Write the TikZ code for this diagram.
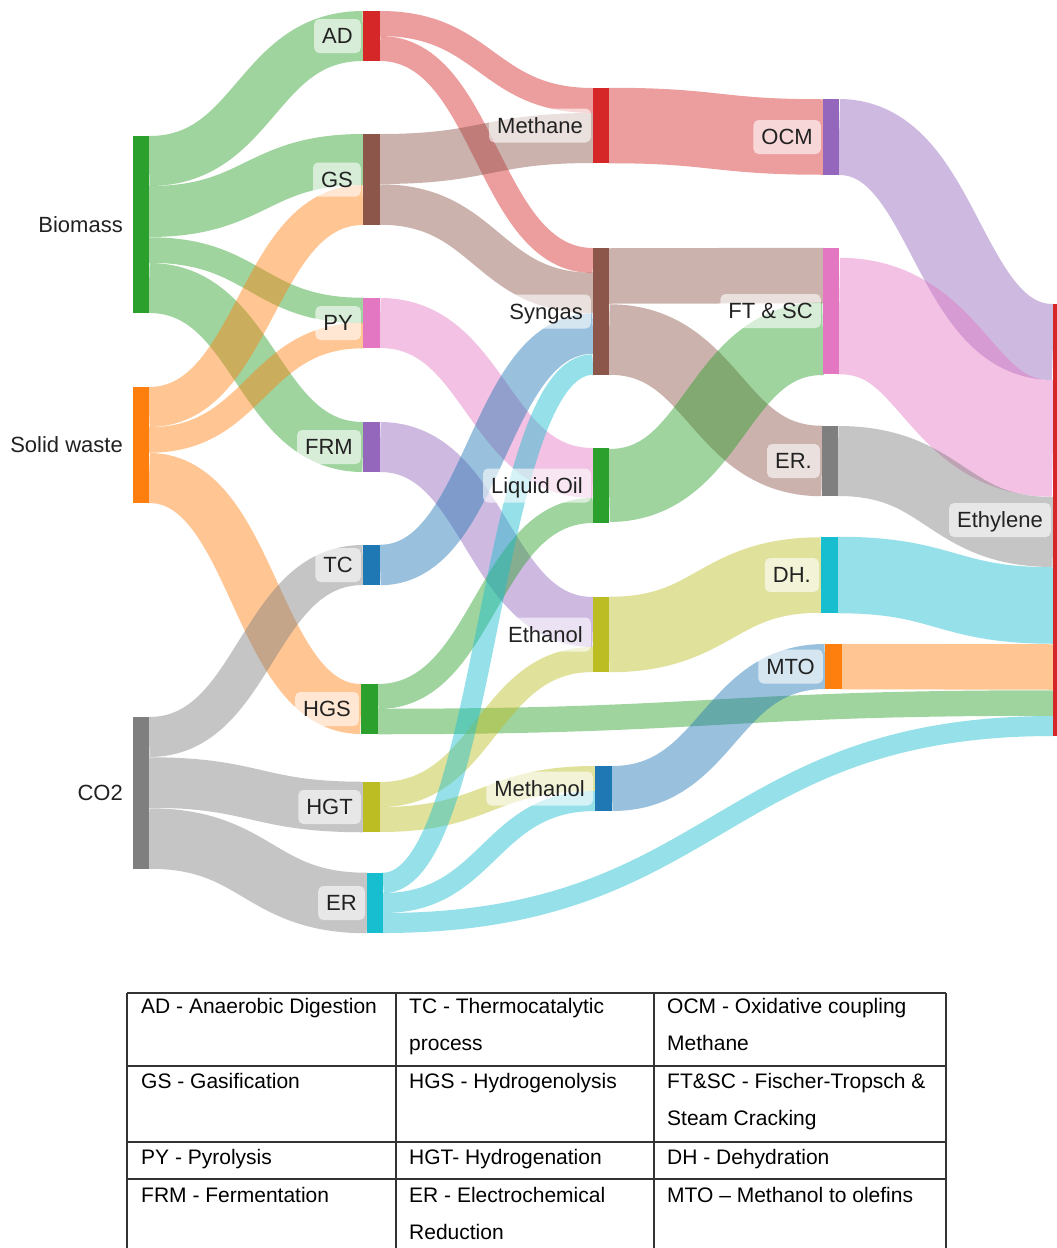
\documentclass[tikz,border=0pt]{standalone}
\usepackage{fontspec}
\setmainfont{Liberation Sans}
\usetikzlibrary{calc}
\definecolor{cblue}{HTML}{1F77B4}
\definecolor{corange}{HTML}{FF7F0E}
\definecolor{cgreen}{HTML}{2CA02C}
\definecolor{cred}{HTML}{D62728}
\definecolor{cpurple}{HTML}{9467BD}
\definecolor{cbrown}{HTML}{8C564B}
\definecolor{cpink}{HTML}{E377C2}
\definecolor{cgray}{HTML}{7F7F7F}
\definecolor{colive}{HTML}{BCBD22}
\definecolor{ccyan}{HTML}{17BECF}
\definecolor{labelc}{HTML}{222222}
\definecolor{tablec}{HTML}{333333}
\pgfdeclarelayer{flows}
\pgfsetlayers{flows,main}
\newcommand\sknode[6]{\node[barnode, fill=#2, minimum width={#4-#3}, minimum height={#6-#5}] (#1) at ({(#3+#4)/2},{(#5+#6)/2}) {};}
\newcommand\sflow[7]{%
  \coordinate (bS) at ($(#2.north east)+(0,{(#3+#4)/2})$);
  \coordinate (bT) at ($(#5.north west)+(0,{(#6+#7)/2})$);
  \coordinate (bM) at ($(bS)!0.5!(bT)$);
  \draw[flowband=#1, line width={((#4-#3)+(#7-#6))/2}] (bS) .. controls (bM |- bS) and (bM |- bT) .. (bT);}
\newcommand\sklabel[3]{\node[lbl] (#1) at ($(#2.west)+(-2,0)$) {#3};}
\begin{document}
\begin{tikzpicture}[x=1pt,y=-1pt,
  barnode/.style={draw=none, rectangle, inner sep=0pt, outer sep=0pt},
  flowband/.style={draw=#1, draw opacity=0.45, line cap=butt},
  lbl/.style={anchor=east, fill=white, fill opacity=0.6, text opacity=1, rounded corners=5pt,
    inner xsep=8pt, inner ysep=0pt, minimum height=34pt, text height=17pt, text depth=1.25pt,
    font=\fontsize{22}{26}\selectfont, text=labelc},
  cell/.style={anchor=base west, inner sep=0pt, font=\fontsize{21}{25}\selectfont, text=black},
  tline/.style={draw=tablec, line width=1.3pt}]
\useasboundingbox (0,0) rectangle (1057,1248);
% nodes (bars)
\sknode{Biomass}{cgreen}{133}{149}{136}{313}
\sknode{SW}{corange}{133}{149}{387}{503}
\sknode{CO2}{cgray}{133}{149}{717}{869}
\sknode{AD}{cred}{363}{380}{11}{61}
\sknode{GS}{cbrown}{363}{380}{134}{225}
\sknode{PY}{cpink}{363}{380}{298}{348}
\sknode{FRM}{cpurple}{363}{380}{422}{472}
\sknode{TC}{cblue}{363}{380}{545}{585}
\sknode{HGS}{cgreen}{361}{378}{684}{734}
\sknode{HGT}{colive}{363}{380}{782}{832}
\sknode{ER}{ccyan}{367}{383}{873}{933}
\sknode{Methane}{cred}{593}{609}{88}{163}
\sknode{Syngas}{cbrown}{593}{609}{248}{375}
\sknode{LO}{cgreen}{593}{609}{448}{523}
\sknode{Ethanol}{colive}{593}{609}{597}{672}
\sknode{Methanol}{cblue}{595}{612}{766}{811}
\sknode{OCM}{cpurple}{823}{839}{99}{175}
\sknode{FTSC}{cpink}{823}{839}{248}{374}
\sknode{ERd}{cgray}{822}{838}{426}{496}
\sknode{DH}{ccyan}{821}{838}{537}{613}
\sknode{MTO}{corange}{825}{842}{644}{689}
\sknode{Eth}{cred}{1053}{1057}{304}{736}
% flows
\begin{pgfonlayer}{flows}
\fill[white] (0,0) rectangle (1057,1248);
\sflow{cgreen}{Biomass}{0}{50}{AD}{0}{50}
\sflow{cgreen}{Biomass}{50}{101}{GS}{0}{51}
\sflow{cgreen}{Biomass}{101}{127}{PY}{0}{25}
\sflow{cgreen}{Biomass}{127}{177}{FRM}{0}{50}
\sflow{corange}{SW}{0}{40}{GS}{51}{91}
\sflow{corange}{SW}{40}{66}{PY}{25}{50}
\sflow{corange}{SW}{66}{116}{HGS}{0}{50}
\sflow{cgray}{CO2}{0}{40}{TC}{0}{40}
\sflow{cgray}{CO2}{40}{91}{HGT}{0}{50}
\sflow{cgray}{CO2}{91}{152}{ER}{0}{60}
\sflow{cred}{AD}{0}{25}{Methane}{0}{25}
\sflow{cred}{AD}{25}{50}{Syngas}{0}{25}
\sflow{cbrown}{GS}{0}{50}{Methane}{25}{75}
\sflow{cbrown}{GS}{50}{91}{Syngas}{25}{65}
\sflow{cpink}{PY}{0}{50}{LO}{0}{50}
\sflow{cpurple}{FRM}{0}{50}{Ethanol}{0}{50}
\sflow{cblue}{TC}{0}{40}{Syngas}{65}{106}
\sflow{cgreen}{HGS}{0}{25}{LO}{50}{75}
\sflow{cgreen}{HGS}{25}{50}{Eth}{386}{412}
\sflow{colive}{HGT}{0}{25}{Ethanol}{50}{75}
\sflow{colive}{HGT}{25}{50}{Methanol}{0}{25}
\sflow{ccyan}{ER}{0}{20}{Syngas}{106}{127}
\sflow{ccyan}{ER}{20}{40}{Methanol}{25}{45}
\sflow{ccyan}{ER}{40}{60}{Eth}{412}{432}
\sflow{cred}{Methane}{0}{75}{OCM}{0}{76}
\sflow{cbrown}{Syngas}{0}{56}{FTSC}{0}{55}
\sflow{cbrown}{Syngas}{56}{127}{ERd}{0}{70}
\sflow{cgreen}{LO}{0}{75}{FTSC}{55}{126}
\sflow{colive}{Ethanol}{0}{75}{DH}{0}{76}
\sflow{cblue}{Methanol}{0}{45}{MTO}{0}{45}
\sflow{cpurple}{OCM}{0}{76}{Eth}{0}{76}
\sflow{cpink}{FTSC}{10}{126}{Eth}{76}{193}
\sflow{cgray}{ERd}{0}{70}{Eth}{193}{263}
\sflow{ccyan}{DH}{0}{76}{Eth}{263}{340}
\sflow{corange}{MTO}{0}{45}{Eth}{340}{386}
\end{pgfonlayer}
% labels
\sklabel{lBiomass}{Biomass}{Biomass}
\sklabel{lSW}{SW}{Solid waste}
\sklabel{lCO2}{CO2}{CO2}
\sklabel{lAD}{AD}{AD}
\sklabel{lGS}{GS}{GS}
\sklabel{lPY}{PY}{PY}
\sklabel{lFRM}{FRM}{FRM}
\sklabel{lTC}{TC}{TC}
\sklabel{lHGS}{HGS}{HGS}
\sklabel{lHGT}{HGT}{HGT}
\sklabel{lER}{ER}{ER}
\sklabel{lMethane}{Methane}{Methane}
\sklabel{lSyngas}{Syngas}{Syngas}
\sklabel{lLO}{LO}{Liquid Oil}
\sklabel{lEthanol}{Ethanol}{Ethanol}
\sklabel{lMethanol}{Methanol}{Methanol}
\sklabel{lOCM}{OCM}{OCM}
\sklabel{lFTSC}{FTSC}{FT \& SC}
\sklabel{lERd}{ERd}{ER.}
\sklabel{lDH}{DH}{DH.}
\sklabel{lMTO}{MTO}{MTO}
\sklabel{lEth}{Eth}{Ethylene}
% table
\draw[tline] (127,993) -- (946,993);
\draw[tline] (127,1066) -- (946,1066);
\draw[tline] (127,1142) -- (946,1142);
\draw[tline] (127,1179) -- (946,1179);
\draw[tline] (127,993) -- (127,1248);
\draw[tline] (396,993) -- (396,1248);
\draw[tline] (654,993) -- (654,1248);
\draw[tline] (946,993) -- (946,1248);
\node[cell] (t11) at (141,1013) {AD - Anaerobic Digestion};
\node[cell] (t12) at (409,1013) {TC - Thermocatalytic};
\node[cell] (t12b) at (409,1050) {process};
\node[cell] (t13) at (667,1013) {OCM - Oxidative coupling};
\node[cell] (t13b) at (667,1050) {Methane};
\node[cell] (t21) at (141,1088) {GS - Gasification};
\node[cell] (t22) at (409,1088) {HGS - Hydrogenolysis};
\node[cell] (t23) at (667,1088) {FT\&SC - Fischer-Tropsch \&};
\node[cell] (t23b) at (667,1125) {Steam Cracking};
\node[cell] (t31) at (141,1164) {PY - Pyrolysis};
\node[cell] (t32) at (409,1164) {HGT- Hydrogenation};
\node[cell] (t33) at (667,1164) {DH - Dehydration};
\node[cell] (t41) at (141,1202) {FRM - Fermentation};
\node[cell] (t42) at (409,1202) {ER - Electrochemical};
\node[cell] (t42b) at (409,1239) {Reduction};
\node[cell] (t43) at (667,1202) {MTO – Methanol to olefins};
\end{tikzpicture}
\end{document}
